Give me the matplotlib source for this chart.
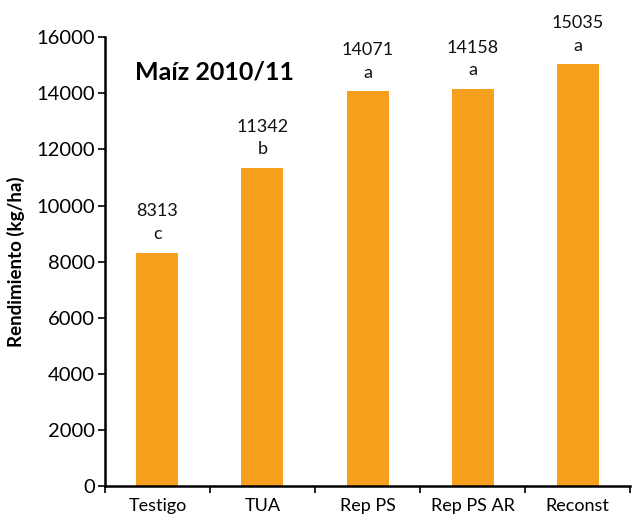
import matplotlib
matplotlib.use("Agg")
import matplotlib.pyplot as plt
import numpy as np

categories = ["Testigo", "TUA", "Rep PS", "Rep PS AR", "Reconst"]
rendimiento = [8313, 11342, 14071, 14158, 15035]
letras = ["c", "b", "a", "a", "a"]
yticks = [0, 2000, 4000, 6000, 8000, 10000, 12000, 14000, 16000]

plt.rcParams["font.family"] = ["Lato", "DejaVu Sans"]

fig = plt.figure(figsize=(6.32, 5.17), dpi=100)
ax = fig.add_axes([0.166, 0.060, 0.831, 0.868])

x = np.arange(len(categories))
ax.bar(x, rendimiento, width=0.4, color="#F7A01E", zorder=2)

for xi, v, l in zip(x, rendimiento, letras):
    ax.annotate(str(v), (xi, v), xytext=(0, 24), textcoords="offset points",
                ha="center", va="bottom", fontsize=13, color="#111111")
    ax.annotate(l, (xi, v), xytext=(0, 7.5), textcoords="offset points",
                ha="center", va="bottom", fontsize=13, color="#111111")

ax.set_xlim(-0.5, len(categories) - 0.5)
ax.set_ylim(0, 16000)
ax.set_yticks(yticks)
ax.set_yticklabels([str(t) for t in yticks], fontsize=14.5)
ax.set_xticks(x)
ax.set_xticklabels(categories, fontsize=13)
ax.tick_params(axis="x", length=0, pad=9)
ax.set_xticks(np.arange(-0.5, len(categories)), minor=True)
ax.tick_params(axis="x", which="minor", length=5, width=1.2, direction="out")
ax.tick_params(axis="y", length=5, width=1.2, direction="out", pad=2)

for s in ["top", "right"]:
    ax.spines[s].set_visible(False)
for s in ["left", "bottom"]:
    ax.spines[s].set_linewidth(1.8)

ax.set_ylabel("Rendimiento (kg/ha)", fontsize=13.5, fontweight="bold", labelpad=8)
ax.text(-0.21, 14750, "Maíz 2010/11", fontsize=18, fontweight="bold",
        ha="left", va="center")

fig.savefig("out.png", dpi=100)
